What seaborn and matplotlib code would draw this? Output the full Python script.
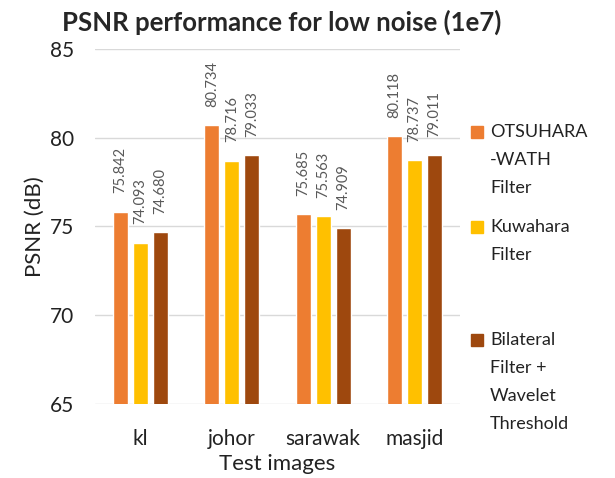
import pandas as pd
import seaborn as sns
import matplotlib.pyplot as plt
from matplotlib.patches import Rectangle

# Data
images = ["kl", "johor", "sarawak", "masjid"]
filters = ["OTSUHARA\n-WATH\nFilter", "Kuwahara\nFilter", "Bilateral\nFilter +\nWavelet\nThreshold"]
otsuhara = [75.842, 80.734, 75.685, 80.118]
kuwahara = [74.093, 78.716, 75.563, 78.737]
bilateral = [74.680, 79.033, 74.909, 79.011]
colors = ["#ED7D31", "#FFC000", "#9E480E"]

df = pd.DataFrame({
    "image": images * 3,
    "filter": [filters[0]] * 4 + [filters[1]] * 4 + [filters[2]] * 4,
    "psnr": otsuhara + kuwahara + bilateral,
})

sns.set_style("white")
plt.rcParams["font.family"] = ["Lato", "DejaVu Sans"]

fig = plt.figure(figsize=(6.15, 4.78), dpi=100)
ax = fig.add_axes([0.1545, 0.155, 0.5935, 0.7425])

sns.barplot(data=df, x="image", y="psnr", hue="filter", palette=colors,
            width=0.657, gap=0.25, saturation=1, ax=ax, legend=False)

ax.set_ylim(65, 85)
ax.set_yticks([65, 70, 75, 80, 85])
ax.yaxis.grid(True, color="#D9D9D9", linewidth=1)
ax.set_axisbelow(True)
for s in ["top", "right", "left", "bottom"]:
    ax.spines[s].set_visible(False)
ax.tick_params(axis="y", length=0, labelsize=15, colors="#222222", pad=15)
ax.tick_params(axis="x", length=0, labelsize=15, colors="#222222", pad=18)

# value labels
for cont in ax.containers:
    for bar in cont:
        h = bar.get_height()
        ax.annotate(f"{h:.3f}", (bar.get_x() + bar.get_width() / 2, h),
                    xytext=(0, 13), textcoords="offset points",
                    ha="center", va="bottom", rotation=90,
                    fontsize=10.5, color="#595959")

ax.set_xlabel("Test images", fontsize=16, labelpad=4, color="#222222")
ax.set_ylabel("PSNR (dB)", fontsize=16, labelpad=4, color="#222222")
fig.text(0.458, 0.954, "PSNR performance for low noise (1e7)", ha="center",
         va="center", fontsize=18.5, fontweight="bold")

# legend, handle aligned with the first line of each label
legend_y = [0.724, 0.525, 0.289]
line_step = 0.059
for label, color, y0 in zip(filters, colors, legend_y):
    fig.patches.append(Rectangle((0.766, y0 - 0.0125), 0.0195, 0.025,
                                 transform=fig.transFigure, color=color))
    for i, line in enumerate(label.split("\n")):
        fig.text(0.797, y0 - i * line_step, line, ha="left", va="center",
                 fontsize=13, color="#222222")

fig.savefig("out.png", dpi=100)
